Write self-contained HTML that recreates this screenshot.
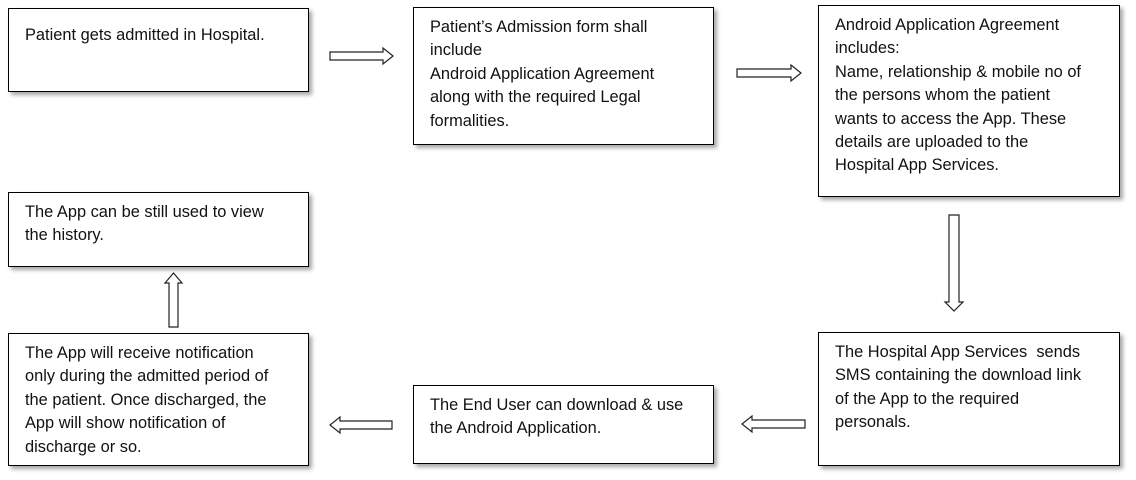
<!DOCTYPE html>
<html><head><meta charset="utf-8"><style>
body{margin:0;width:1136px;height:480px;background:#fff;position:relative;overflow:hidden;font-family:"Liberation Sans",Arial,sans-serif;}
.b{position:absolute;box-sizing:border-box;border:1.3px solid #000;background:#fff;box-shadow:3px 3px 4px rgba(0,0,0,0.35);padding:10px 0 0 16px;font-size:16.4px;line-height:23.4px;color:#111;white-space:nowrap;}
svg{position:absolute;left:0;top:0}
</style></head><body>
<div class="b" style="left:8px;top:8px;width:301px;height:84px;padding-top:15px">Patient gets admitted in Hospital.</div>
<div class="b" style="left:413px;top:7px;width:301px;height:138px;padding-top:8px">Patient’s Admission form shall<br>include<br>Android Application Agreement<br>along with the required Legal<br>formalities.</div>
<div class="b" style="left:818px;top:5px;width:302px;height:192px;padding-top:8px">Android Application Agreement<br>includes:<br>Name, relationship &amp; mobile no of<br>the persons whom the patient<br>wants to access the App. These<br>details are uploaded to the<br>Hospital App Services.</div>
<div class="b" style="left:8px;top:192px;width:301px;height:75px;padding-top:8px">The App can be still used to view<br>the history.</div>
<div class="b" style="left:8px;top:333px;width:301px;height:133px;padding-top:8px">The App will receive notification<br>only during the admitted period of<br>the patient. Once discharged, the<br>App will show notification of<br>discharge or so.</div>
<div class="b" style="left:413px;top:385px;width:301px;height:79px;padding-top:8px">The End User can download &amp; use<br>the Android Application.</div>
<div class="b" style="left:818px;top:332px;width:302px;height:134px;padding-top:8px">The Hospital App Services &nbsp;sends<br>SMS containing the download link<br>of the App to the required<br>personals.</div>
<svg width="1136" height="480" fill="#fff" stroke="#222" stroke-width="1.2">
<polygon points="330,52 383,52 383,48 393,56 383,64 383,60 330,60"/>
<polygon points="737,69 791,69 791,65 801,73 791,81 791,77 737,77"/>
<polygon points="805,420 752,420 752,416 742,424 752,432 752,428 805,428"/>
<polygon points="392,421 340,421 340,417 330,425 340,433 340,429 392,429"/>
<polygon points="949,215 959,215 959,302 963,302 954,311 945,302 949,302"/>
<polygon points="169,327 178,327 178,283 182,283 173.5,273 165,283 169,283"/>
</svg>
</body></html>
